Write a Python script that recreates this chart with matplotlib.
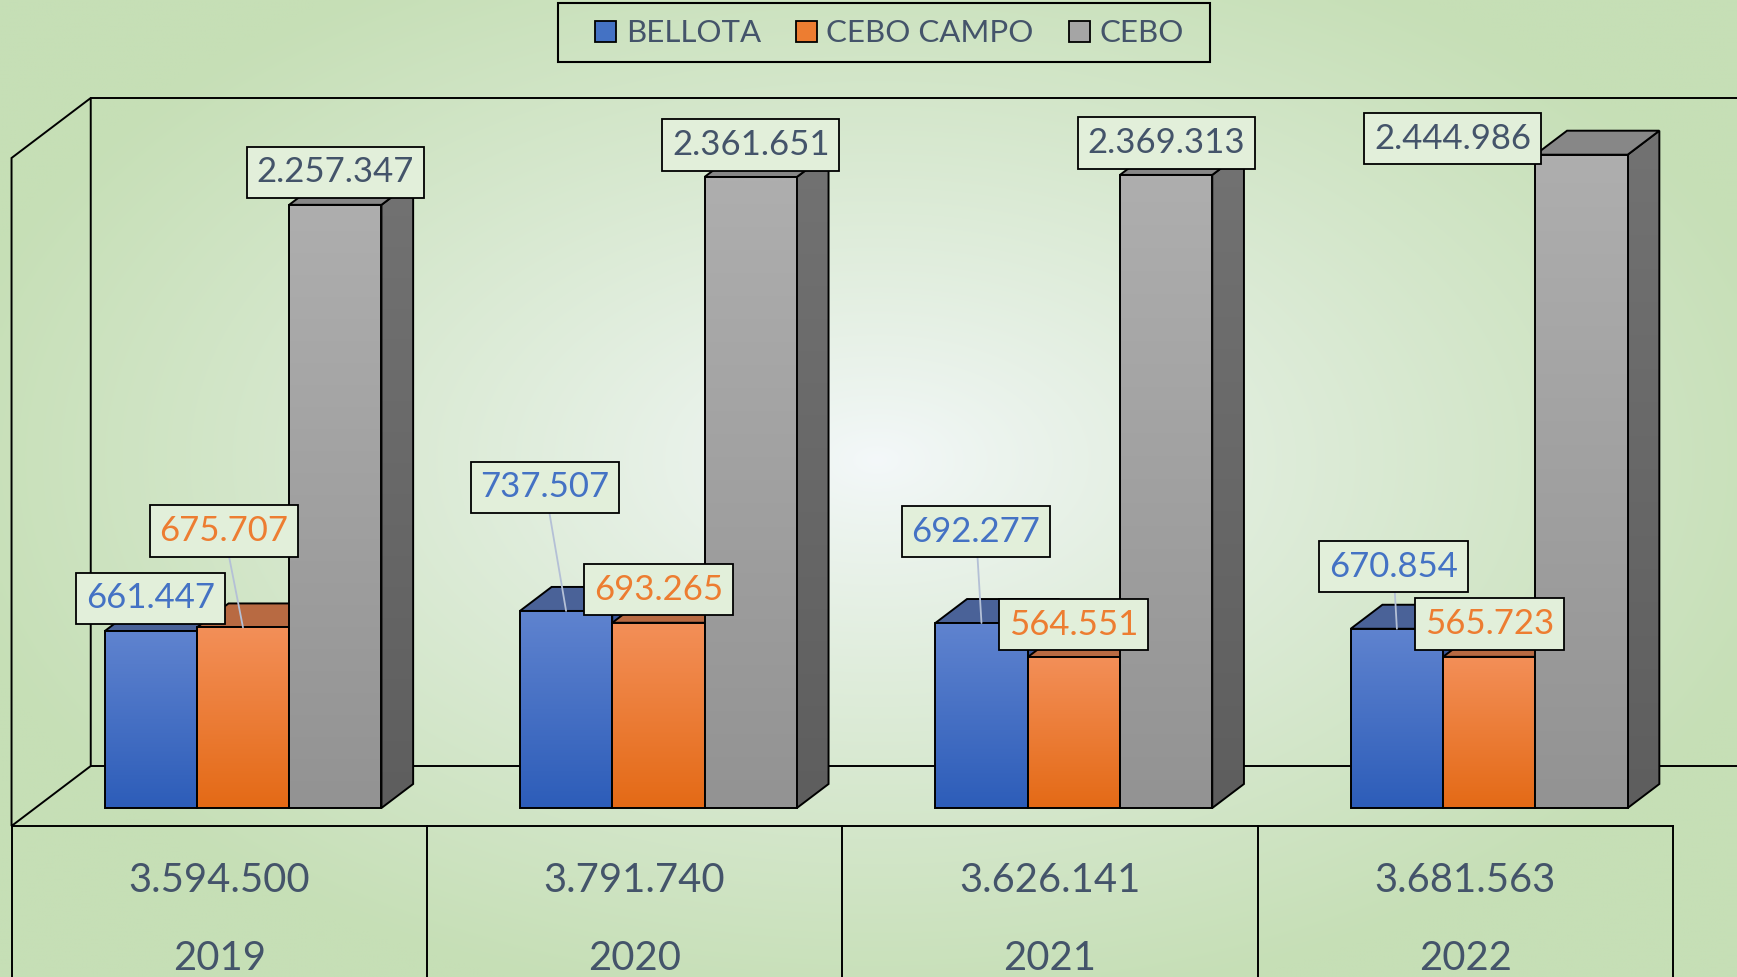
import numpy as np
import matplotlib
matplotlib.use("Agg")
import matplotlib.pyplot as plt
from matplotlib.patches import Polygon, Patch, Rectangle
from matplotlib.colors import to_rgb

# ---------------- data ----------------
years = ["2019", "2020", "2021", "2022"]
series = ["BELLOTA", "CEBO CAMPO", "CEBO"]
bellota = [661447, 737507, 692277, 670854]
cebo_campo = [675707, 693265, 564551, 565723]
cebo = [2257347, 2361651, 2369313, 2444986]
totals = [3594500, 3791740, 3626141, 3681563]
y_max = 2500000

# ---------------- styles ----------------
plt.rcParams['font.family'] = ['Lato', 'DejaVu Sans']
TXT = '#44546A'
front_top = ['#5F83CF', '#F38F58', '#AEAEAE']
front_bot = ['#2D5DB9', '#E46A16', '#939393']
top_col = ['#4A6298', '#B86A42', '#878787']
side_top = ['#3D5A9E', '#B9602A', '#727272']
side_bot = ['#2A4A8E', '#A24E12', '#5E5E5E']
label_col = ['#4472C4', '#ED7D31', TXT]
legend_col = ['#4472C4', '#ED7D31', '#A5A5A5']
# label offsets in pixels (dx, dy up) from top-front centre of each bar
label_offsets = [
    [(0, 33), (-21, 123.5), (-5.5, 91.3), (-3.5, 62)],
    [(-19, 96.5), (0, 33), (0, 32.4), (0, 33)],
    [(0, 32.5), (0, 32), (0, 32), (-129, 16)],
]
leaders = [[False, True, True, True], [True, False, False, False], [False] * 4]

def fmt(v):
    return f"{v:,}".replace(",", ".")

W, H, DPI = 1737, 977, 100
fig = plt.figure(figsize=(W / DPI, H / DPI), dpi=DPI)
ax = fig.add_axes([0, 0, 1, 1])
ax.set_axis_off()

PX_CAT = 415.4
X0 = 35.3
Y0 = 808.0
PX_VAL = 668.0 / y_max
xl = (-X0 / PX_CAT, (W - X0) / PX_CAT)
yl = (-(H - Y0) / PX_VAL, Y0 / PX_VAL)
ax.set_xlim(*xl)
ax.set_ylim(*yl)

DX = 79.2 / PX_CAT
DY = 60.0 / PX_VAL
ZF, ZB = 0.3, 0.7

def P(x, v, z):
    return (x + (z - ZF) * DX, v + (z - ZF) * DY)

# ---------------- background gradient ----------------
gx = np.linspace(0, W, 435)
gy = np.linspace(0, H, 245)
GX, GY = np.meshgrid(gx, gy)
r = np.sqrt(((GX - 877) / 950) ** 2 + ((GY - 460) / 560) ** 2)
t = np.clip(r, 0, 1) ** 0.85
c0 = np.array(to_rgb('#F4F8FA'))
c1 = np.array(to_rgb('#C6DFB6'))
img = c0 + (c1 - c0) * t[..., None]
ax.imshow(img, extent=[xl[0], xl[1], yl[0], yl[1]], origin='upper',
          aspect='auto', zorder=0, interpolation='bilinear')

# ---------------- walls, floor, table lines ----------------
n = len(years)
LW = 1.4
lk = dict(color='black', lw=LW, zorder=1, solid_capstyle='projecting')
wall = [P(0, 0, 0), P(0, y_max, 0), P(0, y_max, 1), P(0, 0, 1)]
ax.add_patch(Polygon(wall, closed=True, fill=False, ec='black', lw=LW, zorder=1))
a, b = P(0, y_max, 1), P(n, y_max, 1)
ax.plot([a[0], b[0]], [a[1], b[1]], **lk)
a, b = P(0, 0, 1), P(n, 0, 1)
ax.plot([a[0], b[0]], [a[1], b[1]], **lk)
a, b = P(0, 0, 0), P(n, 0, 0)
ax.plot([a[0], b[0]], [a[1], b[1]], **lk)
for i in range(n + 1):
    a = P(i, 0, 0)
    ax.plot([a[0], a[0]], [a[1], yl[0]], **lk)

# table text
v_tot = (Y0 - 881) / PX_VAL
v_year = (Y0 - 958) / PX_VAL
for i in range(n):
    xc = P(i + 0.5, 0, 0)[0]
    ax.text(xc, v_tot, fmt(totals[i]), ha='center', va='center',
            fontsize=28.8, color=TXT, zorder=5)
    ax.text(xc, v_year, years[i], ha='center', va='center',
            fontsize=28.8, color=TXT, zorder=5)

# ---------------- 3D bars ----------------
w = 2 / 9
data = [bellota, cebo_campo, cebo]

def vgrad(c_top, c_bot, nstep=64):
    a = np.array(to_rgb(c_top)); b = np.array(to_rgb(c_bot))
    s = np.linspace(0, 1, nstep)[:, None]
    return (a + (b - a) * s)[:, None, :]

for j, vals in enumerate(data):
    xs = [i + 1 / 6 + j * w for i in range(n)]
    zb = 3 + j * 0.1
    bars = ax.bar(xs, vals, width=w, align='edge', color='none',
                  edgecolor='black', lw=LW, zorder=zb + 0.03)
    for i, (bar, v) in enumerate(zip(bars, vals)):
        x = bar.get_x()
        # side face
        side = [P(x + w, 0, ZF), P(x + w, 0, ZB), P(x + w, v, ZB), P(x + w, v, ZF)]
        sp = Polygon(side, closed=True, fc='none', ec='black', lw=LW, zorder=zb + 0.005)
        ax.add_patch(sp)
        xs_ = [p[0] for p in side]; ys_ = [p[1] for p in side]
        im = ax.imshow(vgrad(side_top[j], side_bot[j]),
                       extent=[min(xs_), max(xs_), min(ys_), max(ys_)],
                       origin='upper', aspect='auto', zorder=zb, interpolation='bilinear')
        im.set_clip_path(sp)
        # top face
        top = [P(x, v, ZF), P(x + w, v, ZF), P(x + w, v, ZB), P(x, v, ZB)]
        ax.add_patch(Polygon(top, closed=True, fc=top_col[j], ec='black', lw=LW,
                             zorder=zb + 0.01))
        # front gradient
        im = ax.imshow(vgrad(front_top[j], front_bot[j]), extent=[x, x + w, 0, v],
                       origin='upper', aspect='auto', zorder=zb + 0.02,
                       interpolation='bilinear')
        im.set_clip_path(bar)

# ---------------- data labels ----------------
for j, vals in enumerate(data):
    for i, v in enumerate(vals):
        xc = i + 1 / 6 + j * w + w / 2
        dx, dy = label_offsets[j][i]
        ap = None
        if leaders[j][i]:
            ap = dict(arrowstyle='-', color='#B4C0D6', lw=1.3, shrinkA=0, shrinkB=0)
        ax.annotate(fmt(v), xy=(xc, v), xytext=(dx, dy), textcoords='offset pixels',
                    ha='center', va='center', fontsize=25, color=label_col[j],
                    bbox=dict(boxstyle='square,pad=0.28', fc='#E2EFDA', ec='black', lw=1.3),
                    arrowprops=ap, zorder=10)

# ---------------- legend ----------------
handles = [Patch(facecolor=c, edgecolor='black', lw=1.3) for c in legend_col]
leg = fig.legend(handles, series, loc='center',
                 bbox_to_anchor=(889.5 / W, 1 - 33.5 / H), ncol=3, frameon=False,
                 fontsize=22.5, handlelength=0.68, handleheight=0.68,
                 handletextpad=0.3, columnspacing=1.12, borderpad=0.3,
                 borderaxespad=0, labelcolor=TXT)
fig.patches.append(Rectangle((557.7 / W, 1 - 62.3 / H), (1210 - 557.7) / W, 59 / H,
                             transform=fig.transFigure, fill=False, ec='black',
                             lw=1.5, zorder=20))

fig.savefig('out.png', dpi=DPI)
